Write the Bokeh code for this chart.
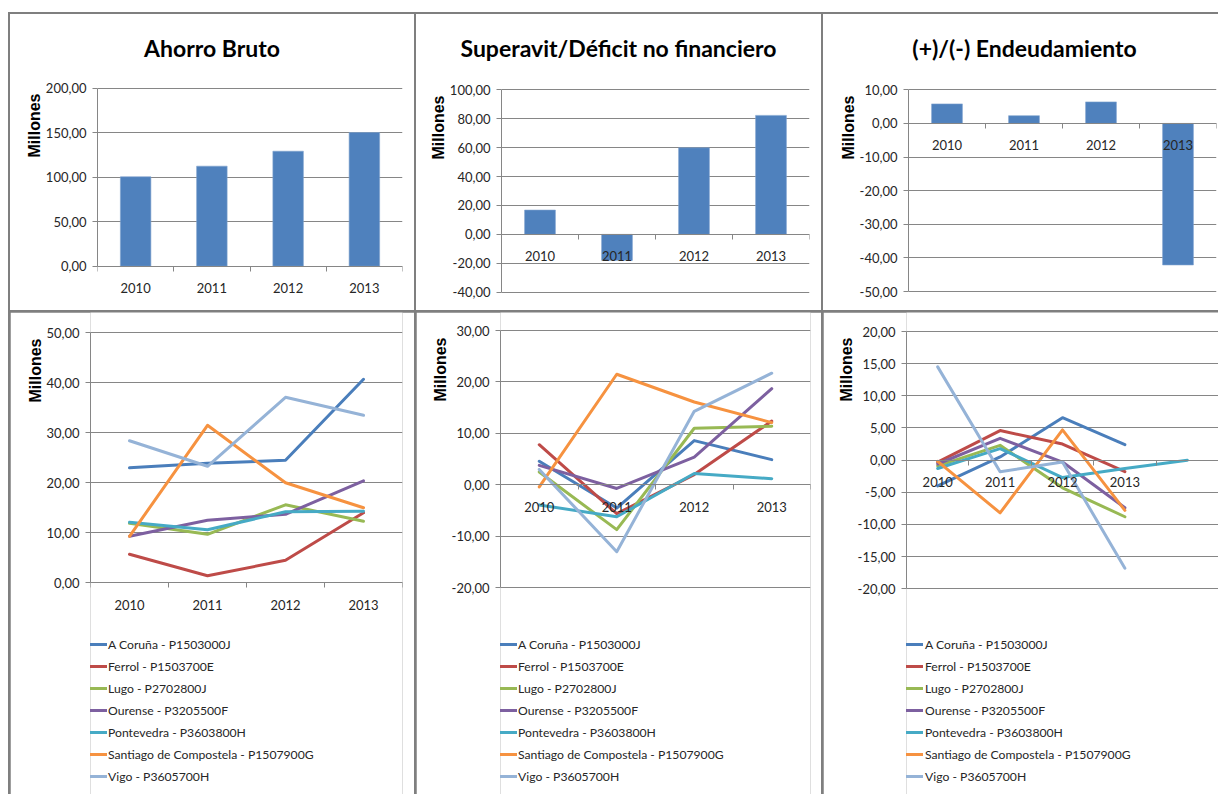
import math
from bokeh.plotting import figure
from bokeh.layouts import row, column
from bokeh.models import Range1d, FixedTicker, Legend, LegendItem, Title, Div
from bokeh.embed import file_html
from bokeh.resources import INLINE

# ---------------- data ----------------
years = ["2010", "2011", "2012", "2013"]
years_endeud = ["2010", "2011", "2012", "2013", ""]

ahorro_total = [100.5, 112.4, 129.2, 150.2]
superavit_total = [16.8, -18.0, 59.9, 82.3]
endeud_total = [5.8, 2.3, 6.4, -42.1]

cities = [
    "A Coruña - P1503000J",
    "Ferrol - P1503700E",
    "Lugo - P2702800J",
    "Ourense - P3205500F",
    "Pontevedra - P3603800H",
    "Santiago de Compostela - P1507900G",
    "Vigo - P3605700H",
]

ahorro_coruna = [23.0, 23.9, 24.5, 40.7]
ahorro_ferrol = [5.7, 1.4, 4.5, 14.0]
ahorro_lugo = [11.9, 9.7, 15.6, 12.3]
ahorro_ourense = [9.3, 12.5, 13.7, 20.4]
ahorro_pontevedra = [12.1, 10.6, 14.2, 14.3]
ahorro_santiago = [9.3, 31.5, 20.0, 15.0]
ahorro_vigo = [28.4, 23.3, 37.1, 33.5]

superavit_coruna = [4.6, -4.5, 8.6, 4.9]
superavit_ferrol = [7.8, -5.6, 2.0, 12.4]
superavit_lugo = [2.5, -8.7, 11.0, 11.4]
superavit_ourense = [3.8, -0.7, 5.4, 18.7]
superavit_pontevedra = [-3.9, -6.2, 2.2, 1.2]
superavit_santiago = [-0.4, 21.5, 16.1, 12.1]
superavit_vigo = [3.0, -13.0, 14.3, 21.7]

endeud_coruna = [-4.0, 0.5, 6.6, 2.4, None]
endeud_ferrol = [-0.3, 4.6, 2.5, -1.8, None]
endeud_lugo = [-0.9, 2.3, -4.3, -8.8, None]
endeud_ourense = [-0.6, 3.4, -0.3, -7.4, None]
endeud_pontevedra = [-1.3, 1.8, -2.7, -1.3, 0.0]
endeud_santiago = [-0.2, -8.2, 4.7, -7.8, None]
endeud_vigo = [14.5, -1.8, -0.3, -16.8, None]

ahorro_series = [ahorro_coruna, ahorro_ferrol, ahorro_lugo, ahorro_ourense,
                 ahorro_pontevedra, ahorro_santiago, ahorro_vigo]
superavit_series = [superavit_coruna, superavit_ferrol, superavit_lugo, superavit_ourense,
                    superavit_pontevedra, superavit_santiago, superavit_vigo]
endeud_series = [endeud_coruna, endeud_ferrol, endeud_lugo, endeud_ourense,
                 endeud_pontevedra, endeud_santiago, endeud_vigo]

# ---------------- style ----------------
GRID = "#868686"
BORDER = "#7f7f7f"
BAR = "#4F81BD"
TXT = "#262626"
FONT = "Lato"
SANS = "Liberation Sans"
COLORS = ["#4A7EBB", "#BE4B48", "#98B954", "#7D60A0", "#46AAC5", "#F69240", "#95B3D7"]
TITLE_H = 60


def make_panel(W, H, fl, fr, labels, y0, y1, ystep, py1, py0, mill_offset, margin):
    """Frame spans the whole height of the figure; py1/py0 are the pixel rows of y1/y0."""
    n = len(labels)
    ppy = (py0 - py1) / (y1 - y0)
    ys = y0 - (H - py0) / ppy
    ye = y1 + py1 / ppy
    p = figure(width=W, height=H, x_range=Range1d(0.5, n + 0.5), y_range=Range1d(ys, ye),
               x_axis_location="above", output_backend="svg", toolbar_location=None,
               min_border_left=fl, min_border_right=fr, min_border_top=0, min_border_bottom=0,
               margin=margin, outline_line_color=None,
               background_fill_color="white", border_fill_color="white")
    yt = list(range(int(y0), int(y1) + 1, int(ystep)))
    p.yaxis.ticker = FixedTicker(ticks=yt)
    p.yaxis.major_label_overrides = {v: f"{v:.2f}".replace(".", ",") for v in yt}
    p.yaxis.bounds = (y0, y1)
    p.yaxis.axis_line_color = GRID
    p.yaxis.major_tick_line_color = GRID
    p.yaxis.major_tick_out = 5
    p.yaxis.major_tick_in = 0
    p.yaxis.minor_tick_line_color = None
    p.yaxis.major_label_standoff = 6
    p.yaxis.major_label_text_font = FONT
    p.yaxis.major_label_text_font_size = "13px"
    p.yaxis.major_label_text_color = TXT

    p.ygrid.ticker = FixedTicker(ticks=yt)
    p.ygrid.grid_line_color = GRID
    p.xgrid.visible = False

    p.xaxis.ticker = FixedTicker(ticks=list(range(1, n + 1)),
                                 minor_ticks=[i + 0.5 for i in range(n + 1)])
    p.xaxis.major_label_overrides = {i + 1: lab for i, lab in enumerate(labels)}
    p.xaxis.fixed_location = 0
    p.xaxis.axis_line_color = GRID
    p.xaxis.major_tick_line_color = None
    p.xaxis.major_tick_out = 0
    p.xaxis.major_tick_in = 0
    p.xaxis.minor_tick_line_color = GRID
    p.xaxis.minor_tick_out = 0
    p.xaxis.minor_tick_in = 5
    p.xaxis.major_label_standoff = -27
    p.xaxis.major_label_text_font = FONT
    p.xaxis.major_label_text_font_size = "13px"
    p.xaxis.major_label_text_color = TXT

    p.add_layout(Title(text="Millones", align="right", offset=mill_offset, standoff=0,
                       text_font=SANS, text_font_size="16px", text_font_style="bold",
                       text_color="black"), "left")
    return p


def title_div(text, W, indent):
    return Div(text=text, width=W, height=TITLE_H, margin=0,
               styles={"background-color": "white", "font-family": FONT,
                       "font-weight": "bold", "font-size": "23px", "line-height": "69px",
                       "text-align": "center", "color": "black", "white-space": "nowrap",
                       "text-indent": f"{indent}px", "overflow": "hidden"})


def bar_panel(W, fl, fr, values, y0, y1, ystep, py1, py0, title, indent, mill_offset):
    H = 296 - TITLE_H
    p = make_panel(W, H, fl, fr, years, y0, y1, ystep, py1, py0, mill_offset, 0)
    xs = [i + 1 for i in range(len(values))]
    p.vbar(x=xs, top=values, bottom=0, width=0.4, fill_color=BAR, line_color="#7FA3CF",
           line_width=0.6)
    return column(title_div(title, W, indent), p, margin=(2, 0, 0, 2),
                  styles={"background-color": "white"})


def line_panel(W, fl, fr, labels, series, y0, y1, ystep, py1, py0, mill_offset, vx,
               glyph_w, standoff):
    H = 482
    p = make_panel(W, H, fl, fr, labels, y0, y1, ystep, py1, py0, mill_offset, (2, 0, 0, 2))
    items = []
    for name, vals, col in zip(cities, series, COLORS):
        xs = [i + 1 for i in range(len(vals))]
        ys = [float("nan") if v is None else v for v in vals]
        r = p.line(xs, ys, line_color=col, line_width=3, line_join="round", line_cap="round")
        items.append(LegendItem(label=name, renderers=[r]))
    leg = Legend(items=items, location=(vx, 8), orientation="vertical", padding=0, margin=0,
                 spacing=2, glyph_width=glyph_w, glyph_height=20, label_height=20,
                 label_standoff=standoff, label_text_font=FONT, label_text_font_size="12.2px",
                 label_text_color=TXT, border_line_color=None, background_fill_alpha=0)
    p.add_layout(leg)
    return p


# top row: pixel rows of the extreme ticks are measured from the top of each figure
c1 = bar_panel(404, 87, 12, ahorro_total, 0, 200, 50, 13.7, 191.7,
               "Ahorro Bruto", 0, 19)
c2 = bar_panel(405, 85, 12, superavit_total, -40, 100, 20, 15.3, 217.7,
               "Superavit/Déficit no financiero", 0, 21)
c3 = bar_panel(395, 85, 2, endeud_total, -50, 10, 10, 15.3, 217.0,
               "(+)/(-) Endeudamiento", 8, 21)

p4 = line_panel(404, 80, 12, years, ahorro_series, 0, 50, 10, 20.3, 270.3, 26, -10, 27, 1)
p5 = line_panel(405, 84, 11, years, superavit_series, -20, 30, 10, 18.0, 275.3, 25, -12, 29, 1)
p6 = line_panel(395, 83, 0, years_endeud, endeud_series, -20, 20, 5, 19.0, 276.3, 25, -10, 27, 2)

layout = column(row(c1, c2, c3), row(p4, p5, p6),
                styles={"background-color": BORDER}, margin=(12, 0, 0, 8))

open("out.html", "w").write(file_html(layout, INLINE))
